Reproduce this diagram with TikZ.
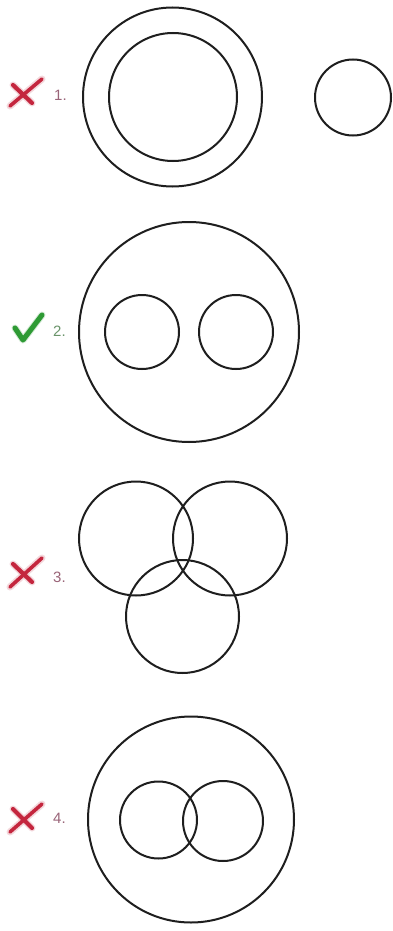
\documentclass[tikz,border=0pt]{standalone}
\usepackage{fontspec}
\setmainfont{Liberation Sans}
\definecolor{ink}{HTML}{1E1E1E}
\definecolor{xred}{HTML}{C4263E}
\definecolor{okgreen}{HTML}{2E9A34}
\definecolor{badlbl}{HTML}{9A6478}
\definecolor{goodlbl}{HTML}{6A946A}
\begin{document}
\begin{tikzpicture}[x=1pt,y=-1pt,
  ring/.style={draw=ink,line width=2pt,circle,inner sep=0pt,outer sep=0pt},
  lbl/.style={anchor=west,inner sep=0pt,font=\fontsize{15}{17}\selectfont},
  xmark/.style={draw=xred,line width=4.2pt,line cap=round},
  xhalo/.style={draw=xred!35,line width=7pt,line cap=round,opacity=0.5},
  okmark/.style={draw=okgreen,line width=5pt,line cap=round,line join=round}]
\useasboundingbox[fill=white] (0,0) rectangle (392,931);

% ---------- 1 ----------
\node[ring,minimum size=179pt] (o1) at (172.5,97) {};
\node[ring,minimum size=128pt] (i1) at (173,97) {};
\node[ring,minimum size=76pt] (s1) at (353,97.5) {};
\coordinate (x1a) at (13,85); \coordinate (x1b) at (32,103);
\coordinate (x1c) at (10,106); \coordinate (x1d) at (42,79);
\draw[xhalo] (x1a) -- (x1b); \draw[xhalo] (x1c) -- (x1d);
\draw[xmark] (x1a) -- (x1b);
\draw[xmark,line width=3.6pt] (x1c) -- (x1d);
\node[lbl,text=badlbl] (l1) at (54,95) {1.};

% ---------- 2 ----------
\node[ring,minimum size=220pt] (o2) at (189,332) {};
\node[ring,minimum size=74pt] (a2) at (142,332) {};
\node[ring,minimum size=74pt] (b2) at (236,332) {};
\coordinate (c2a) at (15,328); \coordinate (c2b) at (23,340); \coordinate (c2c) at (42,315);
\draw[okmark,okgreen!40,line width=7pt,opacity=0.5] (c2a) -- (c2b) -- (c2c);
\draw[okmark] (c2a) -- (c2b) -- (c2c);
\node[lbl,text=goodlbl] (l2) at (53,331) {2.};

% ---------- 3 ----------
\node[ring,minimum size=114pt] (a3) at (136,538.5) {};
\node[ring,minimum size=114pt] (b3) at (230,538.5) {};
\node[ring,minimum size=113pt] (c3) at (182.5,616.5) {};
\coordinate (x3a) at (13,564); \coordinate (x3b) at (32,582);
\coordinate (x3c) at (10,587); \coordinate (x3d) at (42,558);
\draw[xhalo] (x3a) -- (x3b); \draw[xhalo] (x3c) -- (x3d);
\draw[xmark] (x3a) -- (x3b);
\draw[xmark,line width=3.6pt] (x3c) -- (x3d);
\node[lbl,text=badlbl] (l3) at (53,577) {3.};

% ---------- 4 ----------
\node[ring,minimum size=206pt] (o4) at (191,819.5) {};
\node[ring,minimum size=77pt] (a4) at (158.5,820) {};
\node[ring,minimum size=80pt] (b4) at (223,821) {};
\coordinate (x4a) at (13,809); \coordinate (x4b) at (32,828);
\coordinate (x4c) at (10,832); \coordinate (x4d) at (42,804);
\draw[xhalo] (x4a) -- (x4b); \draw[xhalo] (x4c) -- (x4d);
\draw[xmark] (x4a) -- (x4b);
\draw[xmark,line width=3.6pt] (x4c) -- (x4d);
\node[lbl,text=badlbl] (l4) at (53,818) {4.};
\end{tikzpicture}
\end{document}
